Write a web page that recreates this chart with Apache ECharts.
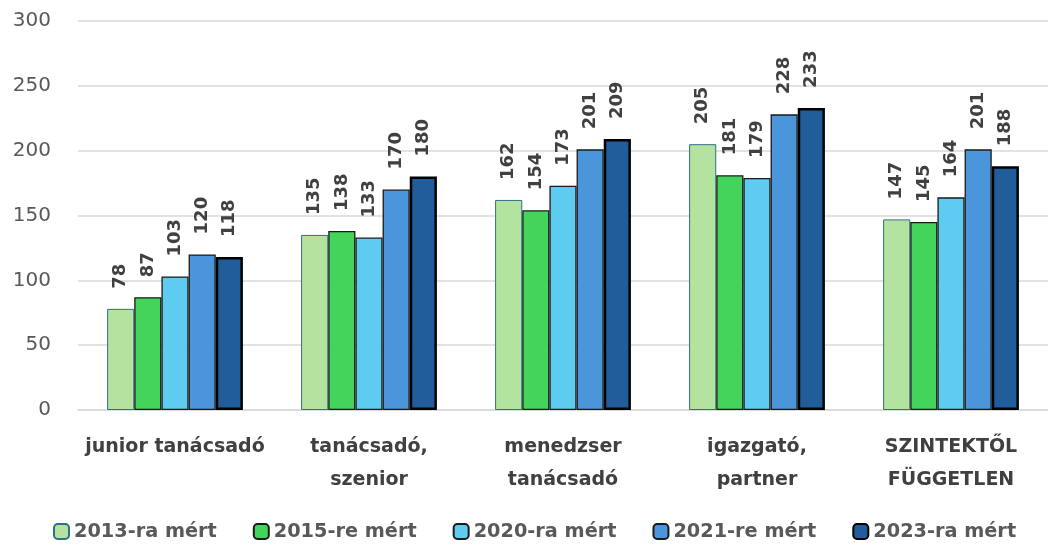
<!DOCTYPE html>
<html>
<head>
    <meta charset="UTF-8" />
    <title>bérek</title>
    <script src="https://cdn.jsdelivr.net/npm/echarts@6/dist/echarts.min.js"></script>
    <style>
        html, body { margin: 0; padding: 0; background: #fff; }
        #A { width: 1048px; height: 546px; }
    </style>
</head>
<body>
    <div id="A"></div>
    <script>
        var categories = ['junior tanácsadó', 'tanácsadó,\nszenior', 'menedzser\ntanácsadó', 'igazgató,\npartner', 'SZINTEKTŐL\nFÜGGETLEN'];
        var seriesNames = ['2013-ra mért', '2015-re mért', '2020-ra mért', '2021-re mért', '2023-ra mért'];
        var v2013 = [78, 135, 162, 205, 147];
        var v2015 = [87, 138, 154, 181, 145];
        var v2020 = [103, 133, 173, 179, 164];
        var v2021 = [120, 170, 201, 228, 201];
        var v2023 = [118, 180, 209, 233, 188];
        var yTicks = [0, 50, 100, 150, 200, 250, 300];

        var colors = ['#b4e3a0', '#45d45b', '#5ecbf1', '#4b95da', '#215d9a'];
        var borders = ['#2f6f8c', '#1a1a1a', '#1a1a1a', '#1a1a1a', '#000000'];
        var borderW = [1, 1.3, 1.3, 1.3, 2.5];
        var values = [v2013, v2015, v2020, v2021, v2023];
        var font = 'DejaVu Sans';

        var myChart = echarts.init(document.getElementById('A'));
        var series = [];
        for (var i = 0; i < values.length; i++) {
            series.push({
                name: seriesNames[i],
                type: 'bar',
                data: values[i],
                barGap: '0%',
                barCategoryGap: '30%',
                itemStyle: { color: colors[i], borderColor: borders[i], borderWidth: borderW[i] },
                label: {
                    show: true,
                    position: 'top',
                    rotate: 90,
                    align: 'left',
                    verticalAlign: 'middle',
                    distance: 20,
                    fontFamily: font,
                    fontWeight: 'bold',
                    fontSize: 18,
                    color: '#404040'
                }
            });
        }

        var option = {
            animation: false,
            grid: { left: 78, top: 21, width: 982, height: 389, containLabel: false },
            legend: {
                bottom: 0,
                left: 48,
                itemWidth: 15,
                itemHeight: 15,
                itemGap: 36,
                textStyle: { fontFamily: font, fontWeight: 'bold', fontSize: 19.3, color: '#595959' },
                data: seriesNames
            },
            xAxis: {
                type: 'category',
                data: categories,
                axisLine: { lineStyle: { color: '#d9d9d9', width: 1.5 } },
                axisTick: { show: false },
                axisLabel: {
                    interval: 0,
                    margin: 21,
                    fontFamily: font,
                    fontWeight: 'bold',
                    fontSize: 19,
                    lineHeight: 33,
                    color: '#404040'
                }
            },
            yAxis: {
                type: 'value',
                min: yTicks[0],
                max: yTicks[yTicks.length - 1],
                interval: 50,
                axisLine: { show: false },
                axisTick: { show: false },
                splitLine: { lineStyle: { color: '#d9d9d9', width: 1.5 } },
                axisLabel: {
                    margin: 27,
                    fontFamily: font,
                    fontSize: 20,
                    color: '#595959'
                }
            },
            series: series
        };
        myChart.setOption(option);
    </script>
</body>
</html>
